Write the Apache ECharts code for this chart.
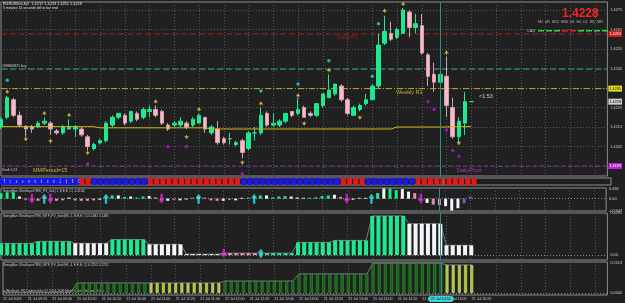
<!DOCTYPE html>
<html>
<head>
<meta charset="utf-8">
<script src="https://cdn.jsdelivr.net/npm/echarts@6/dist/echarts.min.js"></script>
<style>
  html, body {margin: 0; padding: 0; background: #202020;}
  #chart {width: 625px; height: 303px;}
</style>
</head>
<body>
<div id="chart"></div>
<script>
// EURUSDm M5 bars
const open  = [1.4215,1.4220,1.4229,1.4221,1.4215,1.4215,1.4215,1.4217,1.4217,1.4213,1.4212,1.4214,1.4214,1.4214,1.4210,1.4204,1.4207,1.4208,1.4216,1.4220,
               1.4221,1.4218,1.4222,1.4220,1.4223,1.4224,1.4223,1.4216,1.4216,1.4216,1.4217,1.4216,1.4217,1.4220,1.4212,1.4214,1.4209,1.4209,1.4206,1.4208,
               1.4204,1.4212,1.4212,1.4222,1.4216,1.4216,1.4218,1.4223,1.4222,1.4225,1.4222,1.4221,1.4226,1.4230,1.4232,1.4236,1.4229,1.4221,1.4224,1.4227,
               1.4229,1.4236,1.4258,1.4263,1.4261,1.4263,1.4274,1.4266,1.4267,1.4252,1.4242,1.4238,1.4241,1.4225,1.4210,1.4217,1.4228];
const close = [1.4219,1.4230,1.4221,1.4216,1.4214,1.4214,1.4217,1.4218,1.4214,1.4212,1.4215,1.4215,1.4215,1.4211,1.4205,1.4206,1.4208,1.4217,1.4220,1.4222,
               1.4217,1.4223,1.4219,1.4224,1.4224,1.4221,1.4217,1.4214,1.4217,1.4218,1.4215,1.4219,1.4221,1.4214,1.4215,1.4207,1.4207,1.4209,1.4207,1.4202,
               1.4212,1.4212,1.4221,1.4216,1.4217,1.4218,1.4222,1.4221,1.4224,1.4220,1.4221,1.4227,1.4232,1.4234,1.4237,1.4229,1.4222,1.4225,1.4226,1.4229,
               1.4236,1.4257,1.4264,1.4260,1.4265,1.4275,1.4266,1.4268,1.4253,1.4241,1.4238,1.4242,1.4226,1.4210,1.4218,1.4228,1.4228];
const low   = [1.4214,1.4219,1.4220,1.4215,1.4210,1.4212,1.4215,1.4216,1.4211,1.4211,1.4211,1.4214,1.4210,1.4210,1.4203,1.4203,1.4206,1.4207,1.4215,1.4219,
               1.4216,1.4217,1.4218,1.4219,1.4220,1.4220,1.4216,1.4213,1.4215,1.4215,1.4214,1.4215,1.4217,1.4212,1.4211,1.4206,1.4206,1.4206,1.4205,1.4199,
               1.4203,1.4208,1.4211,1.4215,1.4215,1.4215,1.4217,1.4220,1.4221,1.4220,1.4220,1.4220,1.4225,1.4230,1.4231,1.4228,1.4221,1.4221,1.4223,1.4226,
               1.4229,1.4235,1.4257,1.4259,1.4260,1.4263,1.4261,1.4263,1.4252,1.4236,1.4233,1.4234,1.4220,1.4209,1.4207,1.4211,1.4228];
const high  = [1.4220,1.4231,1.4230,1.4223,1.4216,1.4216,1.4218,1.4220,1.4218,1.4214,1.4216,1.4219,1.4216,1.4215,1.4211,1.4207,1.4209,1.4218,1.4221,1.4222,
               1.4222,1.4223,1.4223,1.4225,1.4226,1.4226,1.4224,1.4217,1.4218,1.4220,1.4218,1.4220,1.4222,1.4220,1.4216,1.4218,1.4210,1.4212,1.4208,1.4209,
               1.4213,1.4215,1.4225,1.4223,1.4222,1.4219,1.4222,1.4223,1.4230,1.4226,1.4223,1.4227,1.4232,1.4242,1.4237,1.4237,1.4230,1.4226,1.4227,1.4232,
               1.4237,1.4263,1.4272,1.4269,1.4266,1.4276,1.4275,1.4273,1.4273,1.4253,1.4248,1.4243,1.4251,1.4230,1.4220,1.4233,1.4228];

// moving average (gold line)
const maLine = [1.42152,1.42152,1.42152,1.42152,1.42152,1.42152,1.42152,1.42152,1.42152,1.42152,1.42152,1.42152,1.42152,1.42152,1.42152,1.42152,
                1.42146,1.42146,1.42146,1.42146,1.42146,1.42146,1.42146,1.42146,1.42146,1.42146,1.42146,1.42146,1.42146,1.42146,1.42146,1.42146,1.42146,1.42146,
                1.42140,1.42140,1.42140,1.42140,1.42140,1.42140,1.42140,1.42140,1.42140,1.42140,1.42140,1.42140,1.42140,1.42140,1.42140,1.42140,
                1.42140,1.42140,1.42140,1.42140,1.42140,1.42140,1.42140,1.42140,1.42140,1.42140,1.42140,1.42140,1.42140,1.42140,
                1.42150,1.42150,1.42150,1.42150,1.42150,1.42150,1.42150,1.42150,1.42150,1.42152,1.42152,1.42152,1.42152];

// fractals and dots [bar, price]
const upArrows   = [[1,1.4233],[7,1.4222],[11,1.4221],[25,1.4228],[32,1.4224],[42,1.4227],[48,1.4231],[53,1.4244],[62,1.42745],[65,1.4278],[72,1.4253]];
const downArrows = [[4,1.4209],[8,1.4208],[14,1.4202],[30,1.4210],[39,1.4197],[49,1.4217],[58,1.4220],[74,1.4207]];
const cyanDots   = [[1,1.4239],[42,1.42335],[48,1.4237],[53,1.4249],[60,1.4241],[61,1.4268]];
const purpleDots = [[14,1.4196],[27,1.4205],[30,1.4205],[39,1.4191],[69,1.4228],[70,1.4224],[72,1.42135],[73,1.4203],[74,1.4200]];

// horizontal levels: DailyR1, buy order, WeeklyR1, DailyPivot
const levelPrices = [1.42627, 1.42447, 1.42347, 1.41950];
const lastPrice = 1.4228;
const priceTicks = [1.4195,1.4205,1.4215,1.4225,1.4235,1.4245,1.4255,1.4265,1.4275];

// heiken ashi strip: b = blue, r = red
const stripState = 'bbbbbbbbbbbbbrrbbbbbbbbbrrrrrrrrrrrrrrrbbbbbbbbbbbbbbbbrrrrbbbbbbbbrrrrrrrrrr'.split('');

// UltraSuperTRSI histogram
const histVals = [0.25,0.30,0.30,0.10,-0.05,-0.08,-0.10,0.05,-0.08,-0.10,-0.08,0.05,-0.08,-0.10,-0.10,-0.08,-0.05,0.10,0.15,0.15,
                  0.08,0.10,0.05,0.10,0.12,0.06,-0.08,-0.10,-0.05,-0.08,-0.04,0.04,0.08,0.05,-0.08,-0.10,-0.10,-0.05,-0.08,0.04,
                  0.04,0.08,0.15,0.15,0.06,0.10,0.12,0.10,0.05,0.04,0.04,0.06,0.12,0.15,0.18,0.08,-0.06,-0.05,0.04,0.04,
                  0.05,0.26,0.48,0.48,0.40,0.45,0.33,0.26,-0.06,-0.20,-0.28,-0.30,-0.35,-0.56,-0.45,-0.22,0.10];
const histKind = 'gggwpppwpppwppppwggwgwggwppwpwwgwpppwpwwgggwgggwwwggggwpwwwwggwggwwppwppwww'.split('');
const histUp = [7, 17, 32, 41, 60];
const histDown = [5, 8, 26, 56, 68];
const histTicks = [0.466, 0, -0.5547];

// MTF M5 panel
const m5Vals = [0.12,0.12,0.12,0.12,0.12,0.12,0.14,0.14,0.14,0.14,0.14,0.14,0.12,0.12,0.12,0.12,0.12,0.12,0.16,0.16,
                0.16,0.16,0.16,0.16,0.11,0.11,0.11,0.11,0.11,0.11,0.01,0.01,0.01,0.01,0.01,0.01,0.02,0.02,0.02,0.02,
                0.02,0.02,0.02,0.02,0.02,0.02,0.02,0.02,0.13,0.13,0.13,0.13,0.13,0.13,0.15,0.15,0.15,0.15,0.15,0.15,
                0.40,0.40,0.40,0.40,0.40,0.40,0.32,0.32,0.32,0.32,0.32,0.32,0.10,0.10,0.10,0.10,0.10];
const m5Kind = 'ggggggggggggwwwwwwggggggwwwwwwwwwwwwppppppggggggggggggggggggggggggwwwwwwwwwww'.split('');
const m5Up = [42];
const m5Down = [36];
const m5Ticks = [0.4292, 0];

// MTF H1 panel
const h1Vals = [0.005,0.005,0.005,0.005,0.005,0.005,0.005,0.005,0.005,0.005,0.005,0.005,0.084,0.084,0.084,0.084,0.084,0.084,0.084,0.084,
                0.084,0.084,0.084,0.084,0.084,0.084,0.084,0.084,0.084,0.084,0.084,0.084,0.084,0.084,0.084,0.084,0.10,0.10,0.10,0.10,
                0.10,0.10,0.10,0.10,0.10,0.10,0.10,0.10,0.16,0.16,0.16,0.16,0.16,0.16,0.16,0.16,0.16,0.16,0.16,0.16,
                0.25,0.25,0.25,0.25,0.25,0.25,0.25,0.25,0.25,0.25,0.25,0.25,0.235,0.235,0.235,0.235,0.235];
const h1Kind = 'nnnnnnnnnnnnddddddddddddllllllllllllddddddddddddddddddddddddddddddddddddlllll'.split('');
const h1Ticks = [0.2513, 0];

// time axis
const timeLabels = ['21 Jul 2009','21 Jul 09:20','21 Jul 09:40','21 Jul 10:00','21 Jul 10:20','21 Jul 10:40','21 Jul 11:00',
                    '21 Jul 11:20','21 Jul 11:40','21 Jul 12:00','21 Jul 12:20','21 Jul 12:40','21 Jul 13:00','21 Jul 13:20',
                    '21 Jul 13:40','21 Jul 14:00','21 Jul 14:20','21 Jul 14:40','21 Jul 15:00','21 Jul 15:20'];
const cursorBar = 71;
const cursorLabel = '21 Jul 14:55';
const slots = 99;

const GREEN = '#1ee890', PINK = '#ffb6c8', WHITE = '#f2f6f8', HPINK = '#e08fc0';
const font = 'Liberation Sans';
const cats = Array.from({length: slots}, (_, i) => String(i));
const candles = open.map((o, i) => [o, close[i], low[i], high[i]]);
const kindColor = {g: GREEN, w: WHITE, p: HPINK, d: '#17601c', l: '#a9c83c', n: 'rgba(0,0,0,0)'};

const grids = [
  {left: 1, right: 14, top: 2, height: 174},
  {left: 1, right: 14, top: 178, height: 7},
  {left: 1, right: 14, top: 188, height: 23},
  {left: 1, right: 14, top: 213, height: 47},
  {left: 1, right: 14, top: 262, height: 33}
].map(g => Object.assign(g, {show: true, borderColor: '#8e8e8e', borderWidth: 1, backgroundColor: 'transparent'}));

const xAxes = grids.map((g, k) => ({
  type: 'category', gridIndex: k, data: cats, boundaryGap: false,
  axisLine: {show: false}, axisTick: {show: false},
  axisLabel: k === 4 ? {
    show: true, interval: 3, align: 'left', margin: 2, fontSize: 3.6, fontFamily: font, color: '#d0d0d0',
    formatter: (v, i) => timeLabels[i / 4] || ''
  } : {show: false},
  splitLine: {show: k !== 1, interval: 3, lineStyle: {color: '#575757', type: [1, 2], width: 1}},
  axisPointer: {
    show: true, value: cursorBar, status: 'show', type: 'line', triggerTooltip: false,
    lineStyle: {color: '#2a8f86', width: 1, type: 'solid'},
    label: k === 4 ? {show: true, formatter: () => cursorLabel, backgroundColor: '#3fd3d8', color: '#000',
                      fontSize: 3.6, fontFamily: font, padding: [1, 3], margin: 1} : {show: false},
    handle: {show: false}
  }
}));

const axisLabelBase = {fontSize: 3.8, fontFamily: font, color: '#d0d0d0', margin: 3};
const yAxes = [
  {type: 'value', gridIndex: 0, position: 'right', min: 1.41899, max: 1.42791, scale: true,
   axisLine: {show: false}, axisTick: {show: false, customValues: priceTicks},
   axisLabel: Object.assign({customValues: priceTicks, formatter: v => v.toFixed(4)}, axisLabelBase),
   splitLine: {show: true, lineStyle: {color: '#575757', type: [1, 2]}}},
  {type: 'value', gridIndex: 1, min: 0, max: 1, show: false},
  {type: 'value', gridIndex: 2, position: 'right', min: -0.58, max: 0.5,
   axisLine: {show: false}, axisTick: {show: false, customValues: [0]},
   axisLabel: Object.assign({customValues: histTicks, formatter: v => v === 0 ? '0.00' : String(v)}, axisLabelBase),
   splitLine: {show: true, lineStyle: {color: '#8a8a8a', type: [1, 2]}}},
  {type: 'value', gridIndex: 3, position: 'right', min: -0.05, max: 0.43,
   axisLine: {show: false}, axisTick: {show: false, customValues: [0]},
   axisLabel: Object.assign({customValues: m5Ticks, formatter: v => v === 0 ? '0.00' : String(v)}, axisLabelBase),
   splitLine: {show: true, lineStyle: {color: '#8a8a8a', type: [1, 2]}}},
  {type: 'value', gridIndex: 4, position: 'right', min: -0.017, max: 0.26,
   axisLine: {show: false}, axisTick: {show: false, customValues: [0]},
   axisLabel: Object.assign({customValues: h1Ticks, formatter: v => v === 0 ? '0.0000' : String(v)}, axisLabelBase),
   splitLine: {show: true, lineStyle: {color: '#8a8a8a', type: [1, 2]}}}
];

const levelStyle = [
  {color: '#a82020', type: [6, 3], box: '#d01818', text: '#fff'},
  {color: '#2aa497', type: [6, 3], box: null, text: '#c8c8c8'},
  {color: '#b6b028', type: [6, 2, 1, 2], box: '#e8e020', text: '#000'},
  {color: '#8c2aa6', type: [4, 3], box: '#c020d0', text: '#fff'},
  {color: 'rgba(0,0,0,0)', type: 'solid', box: '#cfcfcf', text: '#000'}
];
const levelSeries = levelPrices.concat([lastPrice]).map((p, k) => ({
  type: 'line', xAxisIndex: 0, yAxisIndex: 0, data: cats.map(() => p), symbol: 'none', silent: true, z: 1,
  lineStyle: {color: levelStyle[k].color, type: levelStyle[k].type, width: 1},
  endLabel: levelStyle[k].box ? {show: true, distance: 1, formatter: p.toFixed(4), fontSize: 3.8, fontFamily: font,
    color: levelStyle[k].text, backgroundColor: levelStyle[k].box, padding: [1, 1]} : {show: false}
}));

const arrowUp = 'path://M5,0 L10,7 L6.5,5.5 L5,10 L3.5,5.5 L0,7 Z';
const bigArrow = 'path://M5,0 L10,5 L7,5 L7,12 L3,12 L3,5 L0,5 Z';

const series = levelSeries.concat([
  {type: 'candlestick', xAxisIndex: 0, yAxisIndex: 0, data: candles, barWidth: 4,
   itemStyle: {color: GREEN, color0: PINK, borderColor: GREEN, borderColor0: '#c9a3ad', borderWidth: 1}},
  {type: 'line', xAxisIndex: 0, yAxisIndex: 0, data: maLine, symbol: 'none',
   lineStyle: {color: '#d2b624', width: 1}},
  {type: 'scatter', xAxisIndex: 0, yAxisIndex: 0, data: upArrows, symbol: arrowUp, symbolSize: [5, 5],
   itemStyle: {color: '#e8d83a'}},
  {type: 'scatter', xAxisIndex: 0, yAxisIndex: 0, data: downArrows, symbol: arrowUp, symbolSize: [5, 5], symbolRotate: 180,
   itemStyle: {color: '#e8d83a'}},
  {type: 'scatter', xAxisIndex: 0, yAxisIndex: 0, data: cyanDots, symbolSize: 3.5, itemStyle: {color: '#25d0e0'}},
  {type: 'scatter', xAxisIndex: 0, yAxisIndex: 0, data: purpleDots, symbolSize: 3.5, itemStyle: {color: '#a81cc0'}},
  {type: 'bar', xAxisIndex: 1, yAxisIndex: 1, barWidth: 5,
   data: stripState.map(s => ({value: 1, itemStyle: {color: s === 'b' ? '#1818e8' : '#e81818'}}))},
  {type: 'bar', xAxisIndex: 2, yAxisIndex: 2, barWidth: 3,
   data: histVals.map((v, i) => ({value: v, itemStyle: {color: kindColor[histKind[i]]}}))},
  {type: 'scatter', xAxisIndex: 2, yAxisIndex: 2, data: histUp.map(i => [i, 0]), symbol: bigArrow, symbolSize: [6, 10],
   itemStyle: {color: '#30e0f0'}},
  {type: 'scatter', xAxisIndex: 2, yAxisIndex: 2, data: histDown.map(i => [i, 0]), symbol: bigArrow, symbolSize: [6, 10],
   symbolRotate: 180, itemStyle: {color: '#e020e0'}},
  {type: 'bar', xAxisIndex: 3, yAxisIndex: 3, barWidth: 4,
   data: m5Vals.map((v, i) => ({value: v, itemStyle: {color: kindColor[m5Kind[i]]}}))},
  {type: 'line', xAxisIndex: 3, yAxisIndex: 3, data: m5Vals, symbol: 'none', lineStyle: {color: '#7a7a7a', width: 1}, z: 1},
  {type: 'scatter', xAxisIndex: 3, yAxisIndex: 3, data: m5Up.map(i => [i, 0.02]), symbol: bigArrow, symbolSize: [6, 9],
   itemStyle: {color: '#30e0f0'}},
  {type: 'scatter', xAxisIndex: 3, yAxisIndex: 3, data: m5Down.map(i => [i, 0.02]), symbol: bigArrow, symbolSize: [6, 9],
   symbolRotate: 180, itemStyle: {color: '#e020e0'}},
  {type: 'bar', xAxisIndex: 4, yAxisIndex: 4, barWidth: 3,
   data: h1Vals.map((v, i) => ({value: v, itemStyle: {color: kindColor[h1Kind[i]],
     borderColor: h1Kind[i] === 'd' ? '#2f9a34' : h1Kind[i] === 'l' ? '#cfe46a' : 'rgba(0,0,0,0)', borderWidth: 0.6}}))},
  {type: 'line', xAxisIndex: 4, yAxisIndex: 4, data: h1Vals, symbol: 'none', lineStyle: {color: '#7a7a7a', width: 1}, z: 1}
]);

const txt = (x, y, text, size, color, extra) => ({type: 'text', left: x, top: y, silent: true,
  style: Object.assign({text, fontSize: size, fontFamily: font, fill: color}, extra || {})});

const tfNames = ['M1','M5','M15','M30','H1','H4','D1','W1','MN'];
const tfTrend = ['g','g','g','r','r','g','g','g','g'];

const graphic = [
  txt(3, 2, 'EURUSDm,M5  1.4217 1.4233 1.4211 1.4228', 3.9, '#e0e0e0'),
  txt(3, 7, '5 minutes 51 seconds left to bar end', 3.4, '#e0e0e0'),
  txt(562, 8, '1.4228', 12, '#ff2020', {fontWeight: 'bold'}),
  txt(538, 20, tfNames.join('  '), 3.6, '#b8b8b8'),
  txt(527, 29, 'CAN', 3.8, '#b8b8b8'),
  txt(2, 64, '#99806871 buy', 3.6, '#d0d0d0'),
  txt(337, 34, 'DailyR1', 6, '#8c1e1e'),
  txt(396, 89, 'Weekly R1', 5.5, '#c8b234'),
  txt(457, 167, 'DailyPivot', 5.5, '#b030c8'),
  txt(2, 169, 'Graft 1:23', 3.4, '#d0d0d0'),
  txt(33, 167, 'MMPeriod=15', 5.5, '#c8b234'),
  txt(479, 93, '<1:53', 5.5, '#d0d0d0'),
  {type: 'rect', left: 2, top: 178, silent: true, shape: {width: 77, height: 7}, style: {fill: '#1818e8'}},
  txt(3, 179.5, 'Tutorial HeikenAshi Weekly(2,6) 12000', 4.5, '#ffffff'),
  txt(3, 190, 'SwingMan UltraSuperTRSI_PV_4vd (1, E,E,E, C) -0.1136', 3.2, '#d0d0d0'),
  txt(3, 215, 'SwingMan UltraSuperTRSI_MTF_PV_4vd (M5, 1, E,E,E, C) 0.1481 0.1481', 3.2, '#d0d0d0'),
  txt(3, 264, 'SwingMan UltraSuperTRSI_MTF_PV_4vd (H1, 4, E,E,E, C) 0.2252 0.2252', 3.2, '#d0d0d0'),
  txt(3, 290, '(c)NetScott_FX-Traders.Info (C) 2001-2009 MetaQuotes Software Corp.', 3.2, '#d0d0d0')
];
tfTrend.forEach((t, k) => graphic.push({type: 'rect', left: 538 + k * 8, top: 30, silent: true,
  shape: {width: 6, height: 1.5}, style: {fill: t === 'g' ? '#22e040' : '#e02020'}}));

const chart = echarts.init(document.getElementById('chart'), null, {renderer: 'canvas'});
chart.setOption({
  backgroundColor: '#202020',
  animation: false,
  textStyle: {fontFamily: font},
  grid: grids,
  xAxis: xAxes,
  yAxis: yAxes,
  series,
  graphic
});
</script>
</body>
</html>
